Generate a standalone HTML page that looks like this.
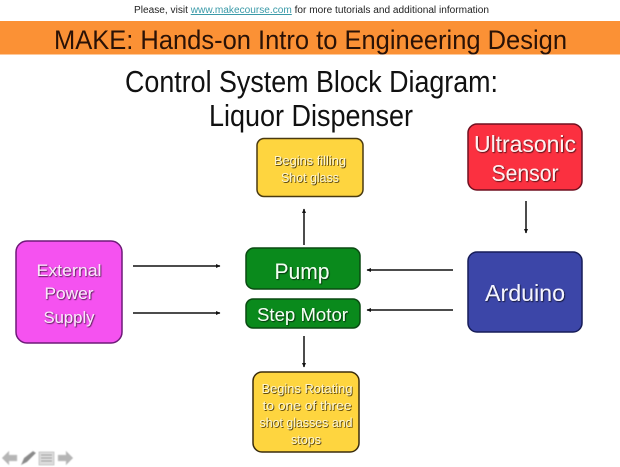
<!DOCTYPE html>
<html><head><meta charset="utf-8"><style>
html,body{margin:0;padding:0;background:#fff;width:620px;height:467px;overflow:hidden}
svg{display:block}
text{font-family:"Liberation Sans",sans-serif;text-anchor:middle}
</style></head><body>
<svg width="620" height="467" viewBox="0 0 620 467" xmlns="http://www.w3.org/2000/svg">
<defs>
<filter id="s" x="-10%" y="-20%" width="120%" height="140%"><feDropShadow dx="0.800" dy="0.800" stdDeviation="0.400" flood-color="#000" flood-opacity="0.800"/></filter>
<filter id="y" x="-10%" y="-20%" width="120%" height="140%"><feDropShadow dx="0.800" dy="0.800" stdDeviation="0.300" flood-color="#3a2a00" flood-opacity="1"/></filter>
<filter id="b" x="-10%" y="-10%" width="120%" height="120%"><feGaussianBlur stdDeviation="0.600"/></filter>
<marker id="a" markerWidth="6" markerHeight="6" refX="4" refY="3" orient="auto" markerUnits="userSpaceOnUse"><path d="M0 1L4.500 3L0 5Z" fill="#111"/></marker>
</defs>
<text x="134" y="13" style="text-anchor:start" font-size="10" textLength="355" lengthAdjust="spacingAndGlyphs" fill="#222">Please, visit <tspan fill="#3a9aa8" text-decoration="underline">www.makecourse.com</tspan> for more tutorials and additional information</text>
<rect x="0" y="21" width="620" height="33.500" fill="#fb9135"/>
<text x="310.500" y="49" font-size="27" textLength="513" lengthAdjust="spacingAndGlyphs" fill="#2a1206">MAKE: Hands-on Intro to Engineering Design</text>
<text x="311.500" y="92" font-size="31" textLength="373" lengthAdjust="spacingAndGlyphs" fill="#111">Control System Block Diagram:</text>
<text x="311" y="126" font-size="31" textLength="204" lengthAdjust="spacingAndGlyphs" fill="#111">Liquor Dispenser</text>

<rect x="16" y="241" width="106" height="102" rx="11" fill="#f552f0" stroke="#6e1a78" stroke-width="1.500"/>
<rect x="257" y="138.500" width="106" height="58" rx="7" fill="#fed53f" stroke="#4a3a10" stroke-width="1.500"/>
<rect x="246" y="248" width="114" height="41" rx="8" fill="#0a8a1c" stroke="#0a4a12" stroke-width="1.500"/>
<rect x="246" y="299" width="114" height="29" rx="7" fill="#0a8a1c" stroke="#0a4a12" stroke-width="1.500"/>
<rect x="253" y="372" width="106" height="80" rx="9" fill="#fed53f" stroke="#3a2c0c" stroke-width="1.500"/>
<rect x="468" y="124" width="114" height="66" rx="9" fill="#fb3040" stroke="#701020" stroke-width="1.500"/>
<rect x="468" y="252" width="114" height="80" rx="9" fill="#3c46a8" stroke="#161c58" stroke-width="1.500"/>

<g stroke="#111" stroke-width="1.500" fill="none">
<line x1="133" y1="266" x2="220" y2="266" marker-end="url(#a)"/>
<line x1="133" y1="313" x2="220" y2="313" marker-end="url(#a)"/>
<line x1="304" y1="245" x2="304" y2="209" marker-end="url(#a)"/>
<line x1="304" y1="336" x2="304" y2="367" marker-end="url(#a)"/>
<line x1="453" y1="270" x2="367" y2="270" marker-end="url(#a)"/>
<line x1="453" y1="310" x2="367" y2="310" marker-end="url(#a)"/>
<line x1="526" y1="201" x2="526" y2="233" marker-end="url(#a)"/>
</g>

<g filter="url(#s)">
<text x="69" y="276" font-size="17" textLength="65" lengthAdjust="spacingAndGlyphs" fill="#fbe6fb">External</text>
<text x="69" y="299" font-size="17" textLength="49" lengthAdjust="spacingAndGlyphs" fill="#fbe6fb">Power</text>
<text x="69" y="323" font-size="17" textLength="51" lengthAdjust="spacingAndGlyphs" fill="#fbe6fb">Supply</text>
<text x="302" y="279" font-size="22" textLength="55" lengthAdjust="spacingAndGlyphs" fill="#f2fff2">Pump</text>
<text x="302.500" y="321" font-size="18" textLength="91" lengthAdjust="spacingAndGlyphs" fill="#f2fff2">Step Motor</text>
<text x="525" y="152" font-size="23" textLength="102" lengthAdjust="spacingAndGlyphs" fill="#fff0f0">Ultrasonic</text>
<text x="525" y="181" font-size="23" textLength="67" lengthAdjust="spacingAndGlyphs" fill="#fff0f0">Sensor</text>
<text x="525" y="301" font-size="23" textLength="80" lengthAdjust="spacingAndGlyphs" fill="#f4f4ff">Arduino</text>
</g>
<g filter="url(#y)">
<text x="310" y="165" font-size="12.500" textLength="72" lengthAdjust="spacingAndGlyphs" fill="#fff6cc">Begins filling</text>
<text x="310" y="182" font-size="12.500" textLength="58" lengthAdjust="spacingAndGlyphs" fill="#fff6cc">Shot glass</text>
<text x="307" y="393" font-size="13" textLength="91" lengthAdjust="spacingAndGlyphs" fill="#fff6cc">Begins Rotating</text>
<text x="307" y="410" font-size="13" textLength="89" lengthAdjust="spacingAndGlyphs" fill="#fff6cc">to one of three</text>
<text x="306" y="427" font-size="13" textLength="93" lengthAdjust="spacingAndGlyphs" fill="#fff6cc">shot glasses and</text>
<text x="306" y="444" font-size="13" textLength="30" lengthAdjust="spacingAndGlyphs" fill="#fff6cc">stops</text>
</g>

<g fill="#b5b5b5" stroke="#d0d0d0" stroke-width="0.500" filter="url(#b)">
<path d="M2 458L9 451V455H17V461H9V465Z"/>
<path d="M21 465L24 458L33 451L36 453L27 462Z" fill="#8a8a8a"/>
<rect x="39" y="452" width="15" height="13" fill="#dcdcdc" stroke="#a5a5a5"/>
<path d="M41 455H52M41 458H52M41 461H52" stroke="#9a9a9a" stroke-width="1" fill="none"/>
<path d="M73 458L66 451V455H58V461H66V465Z"/>
</g>
</svg>
</body></html>
